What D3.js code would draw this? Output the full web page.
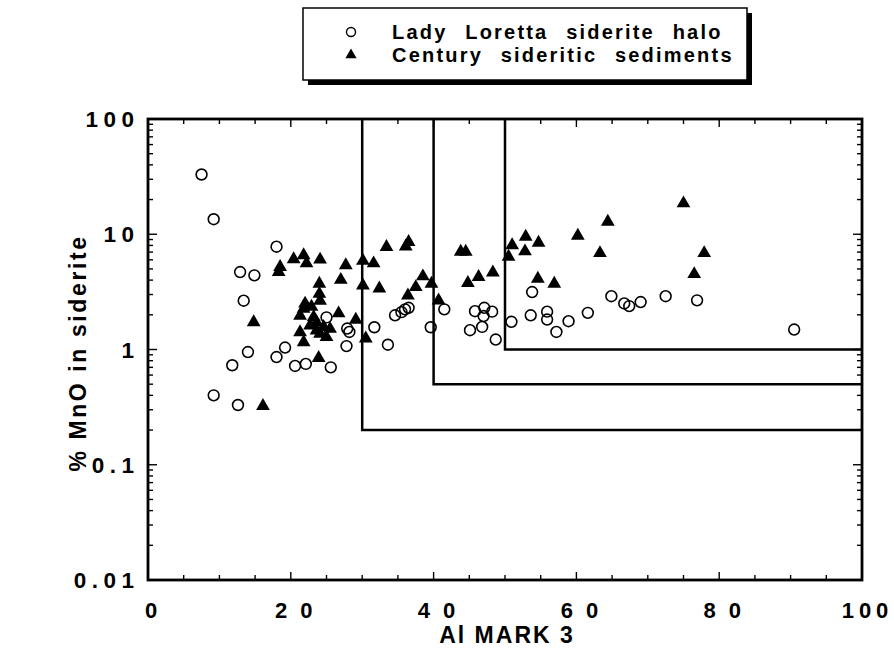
<!DOCTYPE html>
<html>
<head>
<meta charset="utf-8">
<script src="https://cdn.jsdelivr.net/npm/d3@7"></script>
<style>
  html, body { margin: 0; padding: 0; background: #fff; }
  svg { display: block; }
  text { font-family: 'Liberation Sans', Arial, Helvetica, sans-serif; font-weight: bold; fill: #000; }
</style>
</head>
<body>
<svg id="chart" width="894" height="656"></svg>
<script>
// Lady Loretta siderite halo: [Al MARK 3, % MnO in siderite]
const ladyLoretta = [
  [7.5, 33], [9.2, 13.5], [18.0, 7.8], [12.9, 4.7], [14.9, 4.4], [13.4, 2.65],
  [25.0, 1.9], [27.9, 1.52], [28.2, 1.42], [31.7, 1.56], [33.6, 1.1], [27.8, 1.07],
  [19.2, 1.04], [14.0, 0.95], [18.0, 0.86], [11.8, 0.73], [20.6, 0.72], [22.1, 0.75],
  [25.6, 0.70], [9.2, 0.40], [12.6, 0.33],
  [34.6, 1.98], [35.5, 2.11], [36.0, 2.23], [36.5, 2.3], [39.6, 1.56], [41.5, 2.23],
  [45.8, 2.15], [47.1, 2.3], [48.2, 2.13], [47.0, 1.95], [46.8, 1.57], [45.1, 1.47],
  [48.7, 1.22], [50.9, 1.74], [53.8, 3.15], [53.6, 1.98], [55.9, 2.13], [55.9, 1.82],
  [57.2, 1.42], [58.9, 1.76], [61.6, 2.08], [64.9, 2.9], [66.7, 2.51], [67.4, 2.38],
  [69.0, 2.58], [72.5, 2.9], [76.9, 2.67], [90.5, 1.49]
];

// Century sideritic sediments: [Al MARK 3, % MnO in siderite]
const century = [
  [33.4, 7.9], [18.3, 4.8], [18.5, 5.3], [20.4, 6.2], [21.8, 6.7], [22.2, 5.7],
  [24.1, 6.15], [27.7, 5.5], [30.1, 6.0], [31.6, 5.7], [27.0, 4.1], [30.1, 3.67],
  [32.4, 3.45], [24.0, 3.8], [24.0, 3.1], [24.1, 2.7], [22.0, 2.55], [26.7, 2.1],
  [29.1, 1.85], [30.5, 1.27], [21.3, 2.0], [21.8, 2.3], [22.9, 2.4], [23.2, 1.95],
  [23.6, 1.76], [24.6, 1.6], [25.5, 1.54], [24.1, 1.4], [25.0, 1.31], [23.6, 1.49],
  [22.7, 1.65], [21.3, 1.44], [21.8, 1.18], [23.9, 0.86], [14.8, 1.76], [16.1, 0.33],
  [36.5, 8.75], [36.1, 8.0], [36.4, 3.0], [37.5, 3.55], [38.5, 4.4], [39.7, 3.8],
  [40.7, 2.72], [43.8, 7.2], [44.5, 7.2], [44.8, 3.85], [46.3, 4.34], [48.3, 4.75],
  [50.5, 6.5], [51.0, 8.2], [52.9, 9.7], [52.8, 7.25], [54.7, 8.6], [54.6, 4.2],
  [56.9, 3.8], [60.2, 9.9], [64.4, 13.1], [63.3, 7.0], [75.0, 18.9], [77.9, 7.0],
  [76.5, 4.6]
];

// Threshold fields: Al MARK 3 lower bound and MnO lower bound
const fieldAlMark = [30, 40, 50];
const fieldMnO = [0.2, 0.5, 1.0];

const xTickLabels = [0, 20, 40, 60, 80, 100];
const yTickLabels = [0.01, 0.1, 1, 10, 100];
const seriesNames = ["Lady Loretta siderite halo", "Century sideritic sediments"];

const svg = d3.select("#chart");
const plotL = 148, plotR = 862, plotT = 119, plotB = 580;

const x = d3.scaleLinear().domain([0, 100]).range([plotL, plotR]);
const y = d3.scaleLog().domain([0.01, 100]).range([plotB, plotT]);

// minor/major tick sets
const xTicks = d3.range(0, 101, 5);
const yTicks = [];
for (let e = -2; e < 2; e++) for (let m = 1; m < 10; m++) yTicks.push(m * Math.pow(10, e));
yTicks.push(100);
const isMajorY = v => Math.abs(Math.log10(v) - Math.round(Math.log10(v))) < 1e-9;

// inward ticks on all four sides
const tickLen = v => (v % 20 === 0 ? 8 : 5);
const axisG = svg.append("g").attr("stroke", "#000").attr("stroke-width", 1.4);
xTicks.forEach(v => {
  axisG.append("line").attr("x1", x(v)).attr("x2", x(v)).attr("y1", plotB).attr("y2", plotB - tickLen(v));
  axisG.append("line").attr("x1", x(v)).attr("x2", x(v)).attr("y1", plotT).attr("y2", plotT + tickLen(v));
});
yTicks.forEach(v => {
  const len = isMajorY(v) ? 9 : 5;
  axisG.append("line").attr("x1", plotL).attr("x2", plotL + len).attr("y1", y(v)).attr("y2", y(v));
  axisG.append("line").attr("x1", plotR).attr("x2", plotR - len).attr("y1", y(v)).attr("y2", y(v));
});

// tick labels (wide spacing between digits)
const xls = d => (d === 100 ? 5 : d === 0 ? 0 : 13);
svg.append("g").selectAll("text").data(xTickLabels).join("text")
  .attr("x", d => x(d) + xls(d) / 2 + 3).attr("y", 618)
  .attr("text-anchor", "middle").attr("font-size", 22)
  .attr("letter-spacing", xls)
  .text(d => String(d));

const yls = 5.5;
svg.append("g").selectAll("text").data(yTickLabels).join("text")
  .attr("x", 134 + yls).attr("y", d => y(d) + 8)
  .attr("text-anchor", "end").attr("font-size", 22.5)
  .attr("letter-spacing", yls)
  .text(d => String(d));

// frame
svg.append("rect").attr("x", plotL).attr("y", plotT)
  .attr("width", plotR - plotL).attr("height", plotB - plotT)
  .attr("fill", "none").attr("stroke", "#000").attr("stroke-width", 2.8);

// threshold fields
svg.append("g").selectAll("path").data(d3.range(fieldAlMark.length)).join("path")
  .attr("d", i => `M${x(fieldAlMark[i])},${y(100)}V${y(fieldMnO[i])}H${x(100)}`)
  .attr("fill", "none").attr("stroke", "#000").attr("stroke-width", 2.5);

// data points
const tri = d3.symbol().type(d3.symbolTriangle).size(82);
svg.append("g").selectAll("circle").data(ladyLoretta).join("circle")
  .attr("cx", d => x(d[0])).attr("cy", d => y(d[1])).attr("r", 5.4)
  .attr("fill", "none").attr("stroke", "#000").attr("stroke-width", 1.6);
svg.append("g").selectAll("path").data(century).join("path")
  .attr("d", tri).attr("transform", d => `translate(${x(d[0])},${y(d[1]) + 1})`)
  .attr("fill", "#000");

// axis titles
svg.append("text")
  .attr("x", 507).attr("y", 643)
  .attr("text-anchor", "middle").attr("font-size", 23).attr("letter-spacing", 2)
  .text("Al MARK 3");
svg.append("text").attr("transform", "translate(86,353) rotate(-90)")
  .attr("text-anchor", "middle").attr("font-size", 23).attr("letter-spacing", 2.6)
  .text("% MnO in siderite");

// legend with drop shadow
const lg = svg.append("g");
lg.append("rect").attr("x", 308).attr("y", 13).attr("width", 444).attr("height", 72).attr("fill", "#000");
lg.append("rect").attr("x", 303).attr("y", 8).attr("width", 444).attr("height", 72)
  .attr("fill", "#fff").attr("stroke", "#000").attr("stroke-width", 1.5);
lg.append("circle").attr("cx", 351).attr("cy", 32).attr("r", 4.5)
  .attr("fill", "none").attr("stroke", "#000").attr("stroke-width", 1.4);
lg.append("path").attr("d", d3.symbol().type(d3.symbolTriangle).size(55))
  .attr("transform", "translate(351,55)").attr("fill", "#000");
lg.selectAll("text.item").data(seriesNames).join("text").attr("class", "item")
  .attr("x", 392).attr("y", (d, i) => 39 + i * 23)
  .attr("font-size", 20).attr("letter-spacing", 2.2).attr("word-spacing", 10)
  .text(d => d);
</script>
</body>
</html>
